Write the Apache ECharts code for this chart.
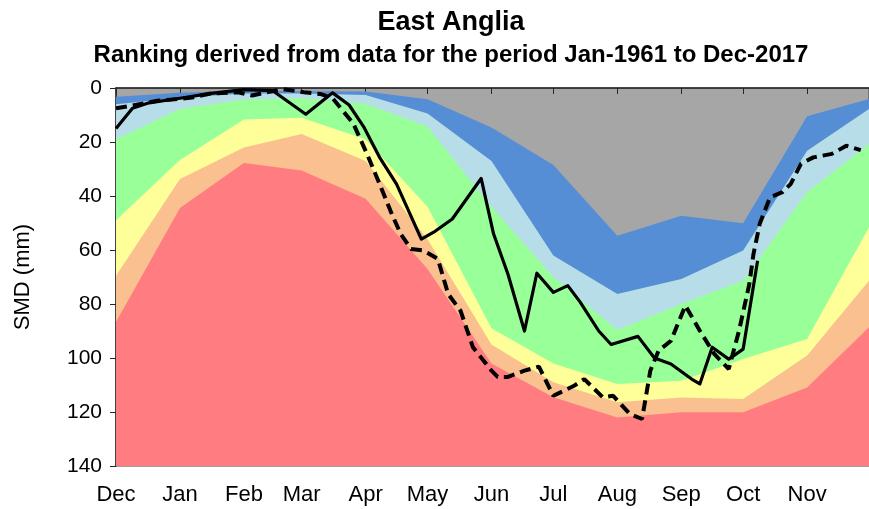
<!DOCTYPE html>
<html>
<head>
<meta charset="utf-8">
<script src="https://cdn.jsdelivr.net/npm/echarts@6/dist/echarts.min.js"></script>
<style>
  html, body { margin: 0; padding: 0; background: #fff; }
  #chart { width: 869px; height: 509px; }
</style>
</head>
<body>
<div id="chart"></div>
<script>
// month ticks, counted in days from 1 Dec
var monthNames = ['Dec', 'Jan', 'Feb', 'Mar', 'Apr', 'May', 'Jun', 'Jul', 'Aug', 'Sep', 'Oct', 'Nov'];
var monthDays = [0, 31, 62, 90, 121, 151, 182, 212, 243, 274, 304, 335];

// ranking band boundaries (SMD mm) at the start of each month, last point = end of Nov
var bandDays  = [0, 31, 62, 90, 121, 151, 182, 212, 243, 274, 304, 335, 365];
var darkBlue  = [3.2, 1.8, 1.0, 1.2, 1.3, 4.2, 14.6, 28.5, 54.7, 47.3, 50.1, 10.5, 4.1];
var lightBlue = [6.0, 3.6, 2.0, 2.0, 2.6, 9.4, 27.0, 62.0, 76.3, 70.7, 60.2, 23.2, 7.8];
var green     = [19.0, 7.8, 4.3, 3.7, 5.8, 14.3, 44.0, 70.0, 89.6, 80.0, 71.4, 38.6, 20.7];
var yellow    = [49.0, 26.7, 11.7, 11.0, 19.0, 44.0, 89.0, 102.0, 109.6, 108.4, 100.4, 93.0, 51.6];
var peach     = [69.5, 33.7, 22.0, 17.0, 27.0, 56.0, 95.0, 109.0, 116.4, 114.6, 115.2, 99.1, 71.4];
var red       = [86.7, 44.4, 27.8, 30.6, 41.0, 67.0, 102.0, 114.5, 122.0, 120.1, 120.1, 110.9, 88.6];

// solid line
var solidDays = [0, 8, 16, 31, 46, 62, 76, 92, 105, 113, 120, 128, 136, 148, 154, 163, 177, 183, 190, 198,
                 204, 212, 219, 225, 234, 240, 253, 261, 269, 279, 283, 289, 297, 304, 311];
var solidSmd  = [15, 7.5, 5.5, 3.8, 2, 0.6, 1, 9.7, 1.8, 6.3, 14.3, 26, 35.6, 56, 53.4, 48.5, 33.5, 54, 69, 90,
                 68.6, 75.7, 73.2, 79.3, 90, 95, 92, 100, 102.2, 107.8, 109.6, 96, 100.4, 96.7, 64];

// dashed line
var dashDays = [0, 10, 20, 30, 37, 46, 59, 66, 73, 81, 91, 99, 105, 115, 122, 128, 133, 138, 143, 149, 156,
                161, 167, 173, 182, 185, 190, 198, 205, 212, 222, 227, 236, 241, 249, 255, 259, 263, 269,
                276, 283, 290, 297, 302, 307, 309, 312, 317, 323, 327, 332, 338, 347, 354, 361];
var dashSmd  = [7.5, 6.2, 4.7, 4.1, 3.5, 2, 1.6, 2.8, 1.6, 0.4, 1.6, 2.2, 3.8, 13.1, 25, 36, 45.4, 54.1, 59.6, 60.2, 63.3,
                76.3, 82.5, 96, 104.7, 107, 107, 104.7, 103.2, 114, 110.3, 107.8, 114.6, 114, 120.7, 122.6, 104.7, 97.3, 93.6,
                80.6, 89.9, 98.5, 104.1, 89.9, 72.6, 61.5, 50.4, 40.5, 38.6, 35.6, 28.1, 25.7, 24.4, 21.4, 23];

var font = 'Liberation Sans, Arial, sans-serif';

function pairs(xs, ys) {
  return xs.map(function (x, i) { return [x, ys[i]]; });
}

var myChart = echarts.init(document.getElementById('chart'), null, { renderer: 'canvas' });

var bands = [
  { name: 'darkBlue', data: darkBlue, color: '#558ED5' },
  { name: 'lightBlue', data: lightBlue, color: '#B7DEE8' },
  { name: 'green', data: green, color: '#99FF99' },
  { name: 'yellow', data: yellow, color: '#FFFF99' },
  { name: 'peach', data: peach, color: '#FAC090' },
  { name: 'red', data: red, color: '#FF7C80' }
];

// each band is filled from its top edge down to the bottom of the axis, later ones on top
var series = bands.map(function (b) {
  return {
    name: b.name,
    type: 'line',
    data: pairs(bandDays, b.data),
    symbol: 'none',
    lineStyle: { width: 0 },
    areaStyle: { color: b.color, opacity: 1, origin: 'end' },
    silent: true
  };
});

series.push({
  name: 'solid',
  type: 'line',
  data: pairs(solidDays, solidSmd),
  symbol: 'none',
  lineStyle: { color: '#000', width: 3.2, join: 'round' },
  z: 5
});
series.push({
  name: 'dashed',
  type: 'line',
  data: pairs(dashDays, dashSmd),
  symbol: 'none',
  lineStyle: { color: '#000', width: 4, type: [11, 6] },
  z: 5
});

var option = {
  animation: false,
  backgroundColor: '#fff',
  title: [
    {
      text: 'East Anglia',
      left: 446, top: 4, textAlign: 'center',
      textStyle: { fontFamily: font, fontSize: 27, fontWeight: 'bold', color: '#000' }
    },
    {
      text: 'Ranking derived from data for the period Jan-1961 to Dec-2017',
      left: 446, top: 38, textAlign: 'center',
      textStyle: { fontFamily: font, fontSize: 24, fontWeight: 'bold', color: '#000' }
    }
  ],
  grid: {
    left: 116, right: -4, top: 88, bottom: 43,
    show: true, backgroundColor: '#A6A6A6', borderColor: '#404040', borderWidth: 1
  },
  xAxis: {
    type: 'value',
    min: 0, max: 365,
    axisLine: { show: true, lineStyle: { color: '#262626', width: 1.5 } },
    axisTick: { show: true, length: 6, customValues: monthDays, lineStyle: { color: '#262626' } },
    axisLabel: {
      customValues: monthDays,
      margin: 18,
      fontFamily: font, fontSize: 22, color: '#000',
      formatter: function (v) { return monthNames[monthDays.indexOf(v)]; }
    },
    splitLine: { show: false }
  },
  yAxis: {
    type: 'value',
    inverse: true,
    min: 0, max: 140, interval: 20,
    name: 'SMD (mm)',
    nameLocation: 'middle',
    nameGap: 82,
    nameTextStyle: { fontFamily: font, fontSize: 22, color: '#000' },
    axisLine: { show: true, lineStyle: { color: '#262626', width: 1.5 } },
    axisTick: { show: true, length: 6, lineStyle: { color: '#262626' } },
    axisLabel: { margin: 14, fontFamily: font, fontSize: 21, color: '#000' },
    splitLine: { show: false }
  },
  series: series
};

myChart.setOption(option);
</script>
</body>
</html>
